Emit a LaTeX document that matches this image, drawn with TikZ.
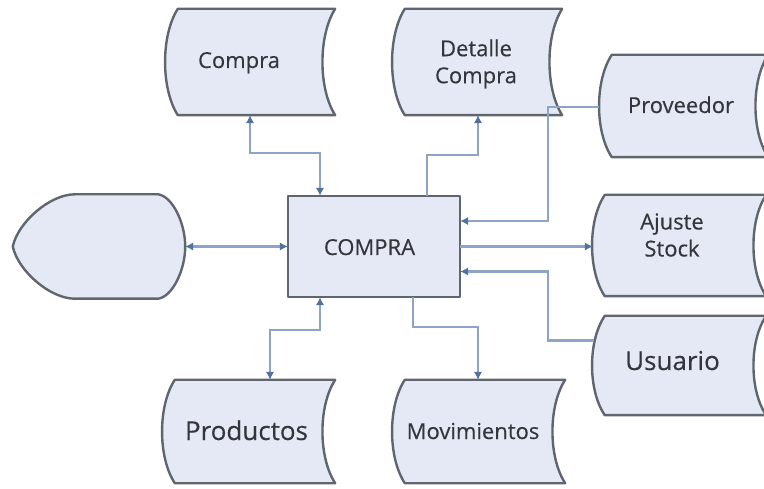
\documentclass[tikz,border=0pt]{standalone}
\usepackage{fontspec}
\setmainfont{Open Sans}
\newfontfamily\lblfont{Open Sans}[FakeBold=0.35]
\usetikzlibrary{calc,arrows.meta,backgrounds}
\definecolor{shapefill}{HTML}{E5E9F6}
\definecolor{shapeedge}{HTML}{60666D}
\definecolor{connline}{HTML}{8DA4C4}
\definecolor{conntip}{HTML}{52729C}
\definecolor{txt}{HTML}{34363C}
\tikzset{
  area/.style={draw=none,inner sep=0pt},
  storeshape/.style={draw=shapeedge,fill=shapefill,line width=2.4pt,line join=round},
  conn/.style={draw=connline,line width=2.3pt},
  tip/.tip={Latex[length=8pt,width=8.5pt,color=conntip]},
  lbl/.style={inner sep=0pt,text=txt,font=\lblfont\fontsize{22}{27}\selectfont},
  biglbl/.style={inner sep=0pt,text=txt,font=\lblfont\fontsize{26}{30}\selectfont},
}
\newcommand\storedpath[1]{%
  \path[storeshape] (#1.north west) -- (#1.north east)
   .. controls ($(#1.north east)!0.25!(#1.south east)+(-17,0)$) and ($(#1.north east)!0.75!(#1.south east)+(-17,0)$) .. (#1.south east)
   -- (#1.south west)
   .. controls ($(#1.south west)!0.25!(#1.north west)+(-17,0)$) and ($(#1.south west)!0.75!(#1.north west)+(-17,0)$) .. (#1.north west) -- cycle;}
\begin{document}
\begin{tikzpicture}[x=1pt,y=-1pt]
\useasboundingbox (0,0) rectangle (764,489);
\clip (0,0) rectangle (764,489);
% areas
\node[area,minimum width=172pt,minimum height=101pt] (box) at (374,246.5) {};
\node[area,minimum width=157pt,minimum height=106pt] (cmp) at (256.5,62) {};
\node[area,minimum width=157pt,minimum height=106pt] (det) at (483.5,62) {};
\node[area,minimum width=156pt,minimum height=102pt] (prov) at (690,106) {};
\node[area,minimum width=161pt,minimum height=101pt] (ajs) at (685.5,245.5) {};
\node[area,minimum width=161pt,minimum height=99pt] (usr) at (685.5,365.5) {};
\node[area,minimum width=160pt,minimum height=103pt] (prd) at (255,431.5) {};
\node[area,minimum width=160pt,minimum height=103pt] (mov) at (485,431.5) {};
\node[area,minimum width=172pt,minimum height=104pt] (disp) at (99,246.5) {};
\begin{scope}[on background layer]
  \path[storeshape] (box.north west) rectangle (box.south east);
  \storedpath{cmp}
  \storedpath{det}
  \storedpath{prov}
  \storedpath{ajs}
  \storedpath{usr}
  \storedpath{prd}
  \storedpath{mov}
  \path[storeshape] ($(disp.north west)+(62,0)$) -- ($(disp.north east)+(-27,0)$)
    .. controls ($(disp.north east)+(-13,2)$) and ($(disp.east)+(0,-24)$) .. (disp.east)
    .. controls ($(disp.east)+(0,24)$) and ($(disp.south east)+(-13,-2)$) .. ($(disp.south east)+(-27,0)$)
    -- ($(disp.south west)+(62,0)$)
    .. controls ($(disp.south west)+(37,0)$) and ($(disp.west)+(5,24)$) .. (disp.west)
    .. controls ($(disp.west)+(5,-24)$) and ($(disp.north west)+(37,0)$) .. ($(disp.north west)+(62,0)$) -- cycle;
\end{scope}
% labels
\node[lbl,anchor=base] (boxT) at (369.5,255) {COMPRA};
\node[lbl,anchor=base] (cmpT) at (239,68) {Compra};
\node[lbl,align=center] (detT) at (476,64) {Detalle\\Compra};
\node[lbl,anchor=base] (provT) at (681,113) {Proveedor};
\node[lbl,align=center] (ajsT) at (672,235) {Ajuste\\Stock};
\node[biglbl,anchor=base] (usrT) at (672.5,370) {Usuario};
\node[biglbl,anchor=base] (prdT) at (246.5,440) {Productos};
\node[lbl,anchor=base] (movT) at (473,439) {Movimientos};
% connectors
\draw[conn,tip-tip] ($(cmp.south)+(-6.5,0)$) -- ++(0,38) -| ($(box.north)+(-54,0)$);
\draw[conn,-tip] ($(box.north)+(53,0)$) -- ++(0,-41) -| ($(det.south)+(-5.5,0)$);
\draw[conn,-tip] ($(prov.west)+(-13,1)$) -| ($(box.east)+(88,-25.5)$) -- ($(box.east)+(0,-25.5)$);
\draw[conn,-tip] (box.east) -- ($(box.east -| ajs.west)+(-12,0)$);
\draw[conn,-tip] ($(usr.west)+(-11,-25)$) -| ($(box.east)+(88,25)$) -- ($(box.east)+(0,25)$);
\draw[conn,tip-tip] ($(box.south)+(-54,0)$) -- ++(0,33) -| ($(prd.north)+(15,0)$);
\draw[conn,-tip] ($(box.south)+(39,0)$) -- ++(0,30) -| ($(mov.north)+(-7,0)$);
\draw[conn,tip-tip] (disp.east) -- (disp.east -| box.west);
\end{tikzpicture}
\end{document}
